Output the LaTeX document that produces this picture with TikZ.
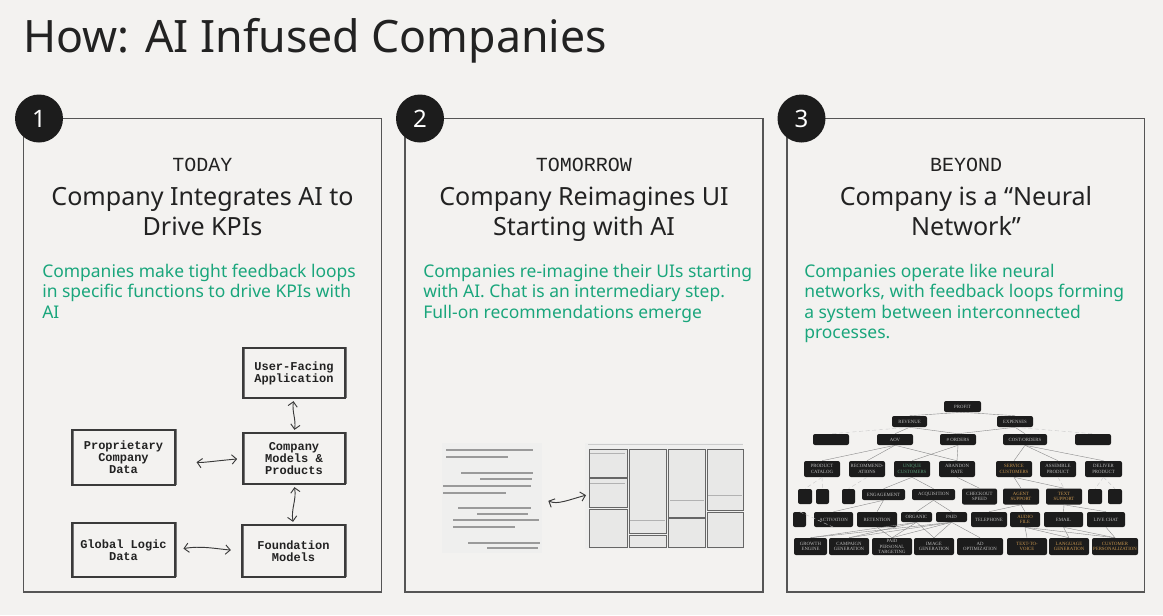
\documentclass[tikz,border=0pt]{standalone}
\usepackage{fontspec}
\setmainfont{Noto Sans}
\newfontfamily\monofont{Liberation Mono}
\newfontfamily\treefont{Liberation Serif}
\usetikzlibrary{arrows.meta}
\definecolor{bgc}{HTML}{F3F2F0}
\definecolor{darktxt}{HTML}{222222}
\definecolor{greentxt}{HTML}{1AA67C}
\definecolor{panelline}{HTML}{555555}
\definecolor{boxline}{HTML}{3A3A3A}
\definecolor{treebox}{HTML}{1C1C1C}
\definecolor{treetxt}{HTML}{BDBDBD}
\definecolor{treegreen}{HTML}{5C9C7A}
\definecolor{treeorange}{HTML}{C9974F}
\definecolor{edgec}{HTML}{8A8A8A}
\definecolor{docfill}{HTML}{EFEFEE}
\definecolor{docline}{HTML}{9A9A9A}
\definecolor{uifill}{HTML}{E8E8E7}
\newcommand\tnode[7][treetxt]{\node[treenode, text=#1, minimum width=#5*0.75pt, minimum height=#6*0.75pt] (#2) at (#3,#4) {#7};}
\begin{document}
\begin{tikzpicture}[x=0.75pt,y=-0.75pt,
  panelbox/.style={draw=panelline, line width=0.8pt},
  numdisc/.style={circle, fill=treebox, text=white, minimum size=48*0.75pt, inner sep=0pt, font=\fontsize{18}{18}\selectfont},
  kicker/.style={anchor=base, inner sep=0pt, text=darktxt, font=\monofont\fontsize{15}{15}\selectfont},
  headline/.style={anchor=base, inner sep=0pt, text=darktxt, font=\fontsize{18.8}{20}\selectfont},
  greenline/.style={anchor=base west, inner sep=0pt, text=greentxt, font=\fontsize{13.1}{14}\selectfont},
  sketchbox/.style={draw=boxline, line width=0.8pt, inner sep=0pt, align=center,
     font=\monofont\bfseries\fontsize{9}{9}\selectfont, text=darktxt,
     preaction={draw=boxline!70, line width=0.45pt, transform canvas={shift={(0.7pt,0.6pt)}}}},
  sketcharrow/.style={draw=boxline, line width=0.7pt, {Straight Barb[length=3.5pt,width=7pt]}-{Straight Barb[length=3.5pt,width=7pt]}},
  treenode/.style={fill=treebox, rounded corners=1.5pt, inner sep=0pt, align=center, font=\treefont\fontsize{3.6}{4}\selectfont},
  treeedge/.style={draw=edgec, line width=0.3pt},
  lightedge/.style={draw=edgec!45, line width=0.3pt, densely dashed},
  docstroke/.style={draw=docline, line width=1pt},
  uibox/.style={fill=uifill, draw=black!60, line width=0.45pt}
]
\useasboundingbox (0,0) rectangle (1163,615);
\fill[bgc] (0,0) rectangle (1163,615);

% title
\node[anchor=base west, inner sep=0pt, text=darktxt, font=\fontsize{33.5}{38}\selectfont] (title) at (23,52) {How: AI Infused Companies};

% panels
\draw[panelbox] (23.5,118.5) rectangle (381.5,592);
\draw[panelbox] (405,118.5) rectangle (763,592);
\draw[panelbox] (787,118.5) rectangle (1144.5,592);
\node[numdisc] (n1) at (39,118.5) {1};
\node[numdisc] (n2) at (420,118.5) {2};
\node[numdisc] (n3) at (801.5,118.5) {3};

% panel texts
\node[kicker] (k1) at (202.5,171) {TODAY};
\node[headline] (h1a) at (202.5,205) {Company Integrates AI to};
\node[headline] (h1b) at (202.5,235) {Drive KPIs};
\node[greenline] (g1a) at (42,277) {Companies make tight feedback loops};
\node[greenline] (g1b) at (42,297.5) {in specific functions to drive KPIs with};
\node[greenline] (g1c) at (42,318) {AI};

\node[kicker] (k2) at (584,171) {TOMORROW};
\node[headline] (h2a) at (584,205) {Company Reimagines UI};
\node[headline] (h2b) at (584,235) {Starting with AI};
\node[greenline] (g2a) at (423,277) {Companies re-imagine their UIs starting};
\node[greenline] (g2b) at (423,297.5) {with AI. Chat is an intermediary step.};
\node[greenline] (g2c) at (423,318) {Full-on recommendations emerge};

\node[kicker] (k3) at (966,171) {BEYOND};
\node[headline] (h3a) at (966,205) {Company is a “Neural};
\node[headline] (h3b) at (966,235) {Network”};
\node[greenline] (g3a) at (804,277) {Companies operate like neural};
\node[greenline] (g3b) at (804,297.5) {networks, with feedback loops forming};
\node[greenline] (g3c) at (804,318) {a system between interconnected};
\node[greenline] (g3d) at (804,338.5) {processes.};

% panel 1 diagram
\node[sketchbox, minimum width=102*0.75pt, minimum height=50*0.75pt] (ufa) at (294,373) {User-Facing\\Application};
\node[sketchbox, minimum width=102*0.75pt, minimum height=51*0.75pt] (cmp) at (294,458.5) {Company\\Models \&\\Products};
\node[sketchbox, minimum width=103*0.75pt, minimum height=55*0.75pt] (pcd) at (123.5,457.5) {Proprietary\\Company\\Data};
\node[sketchbox, minimum width=103*0.75pt, minimum height=54*0.75pt] (gld) at (123.5,550) {Global Logic\\Data};
\node[sketchbox, minimum width=103*0.75pt, minimum height=52*0.75pt] (fm) at (293.5,551) {Foundation\\Models};
\draw[sketcharrow, shorten <=2pt, shorten >=2pt] (ufa.south) to[out=-100,in=80] (cmp.north);
\draw[sketcharrow, shorten <=2pt, shorten >=2pt] (cmp.south) to[out=-80,in=100] (fm.north);
\draw[sketcharrow, shorten <=16pt, shorten >=4pt] (pcd.east |- cmp.center) to[out=-10,in=185] (cmp.west);
\draw[sketcharrow, shorten <=6pt, shorten >=8pt] (gld.east) to[out=10,in=175] (fm.west);

% panel 2 diagram
\node[fill=docfill, inner sep=0pt, minimum width=100*0.75pt, minimum height=110*0.75pt] (doc) at (492,498) {};
\draw[docstroke] (446,450) -- (533,450);
\draw[docstroke] (446,457) -- (508,457);
\draw[docstroke] (461,473) -- (533,473);
\draw[docstroke] (480,479) -- (532,479);
\draw[docstroke] (443,486) -- (531,486);
\draw[docstroke] (443,493) -- (506,493);
\draw[docstroke] (458,508) -- (531,508);
\draw[docstroke] (477,514) -- (528,514);
\draw[docstroke] (453,520) -- (539,520);
\draw[docstroke] (453,527) -- (515,527);
\draw[docstroke] (468,543) -- (540,543);
\draw[docstroke] (487,548) -- (538,548);

\node[fill=docfill, inner sep=0pt, minimum width=158*0.75pt, minimum height=106*0.75pt] (ui) at (664,495.5) {};
\draw[draw=black!20, line width=0.5pt] (588,444.5) -- (743,444.5);
\draw[uibox] (589,449) rectangle (627,477);
\draw[uibox] (589,478.5) rectangle (627,507);
\draw[uibox] (589,509) rectangle (627,547);
\draw[uibox] (629,449) rectangle (666,533);
\draw[uibox] (629,535) rectangle (666,547);
\draw[uibox] (668,449) rectangle (705,517);
\draw[uibox] (668,518.5) rectangle (705,547);
\draw[uibox] (707,449) rectangle (743,510);
\draw[uibox] (707,512) rectangle (743,547);
\draw[draw=black!30, line width=0.4pt] (590,453) -- (625,453);
\draw[draw=black!30, line width=0.4pt] (590,483) -- (625,483);
\draw[draw=black!30, line width=0.4pt] (670,500) -- (704,500);
\draw[draw=black!30, line width=0.4pt] (630,520) -- (665,520);
\draw[draw=black!30, line width=0.4pt] (708,495) -- (742,495);

\draw[sketcharrow, shorten <=5pt, shorten >=-1pt] (doc.east) to[out=-25,in=195] (ui.west);

% panel 3 tree
\tnode{profit}{962.5}{406.5}{37}{11}{PROFIT}
\tnode{rev}{909.5}{421.5}{35}{11}{REVENUE}
\tnode{exp}{1015}{421.5}{36}{11}{EXPENSES}
\tnode{bla}{831}{439.5}{36}{11}{}
\tnode{aov}{895}{439.5}{36}{11}{AOV}
\tnode{ord}{958}{439.5}{36}{11}{\# ORDERS}
\tnode{cpo}{1025}{439.5}{44}{11}{COST/ORDERS}
\tnode{blb}{1093}{439.5}{36}{11}{}
\tnode{pc}{822}{469}{36}{16}{PRODUCT\\CATALOG}
\tnode{rec}{867}{469}{36}{16}{RECOMMEND-\\ATIONS}
\tnode[treegreen]{uc}{912}{469}{36}{16}{UNIQUE\\CUSTOMERS}
\tnode{ar}{957}{469}{36}{16}{ABANDON\\RATE}
\tnode[treeorange]{sc}{1014}{469}{36}{16}{SERVICE\\CUSTOMERS}
\tnode{ap}{1058}{469}{36}{16}{ASSEMBLE\\PRODUCT}
\tnode{dp}{1103.5}{469}{37}{16}{DELIVER\\PRODUCT}
\tnode{blc}{805}{496.5}{14}{15}{}
\tnode{bld}{822.5}{496.5}{13}{15}{}
\tnode{ble}{848.5}{496.5}{13}{15}{}
\tnode{eng}{883.5}{494.5}{43}{11}{ENGAGEMENT}
\tnode{acq}{933.5}{494.5}{43}{11}{ACQUISITION}
\tnode{cs}{979.5}{496.5}{35}{16}{CHECKOUT\\SPEED}
\tnode[treeorange]{as}{1021}{496.5}{36}{16}{AGENT\\SUPPORT}
\tnode[treeorange]{ts}{1064}{496.5}{36}{16}{TEXT\\SUPPORT}
\tnode{blf}{1095}{496.5}{14}{15}{}
\tnode{blg}{1115}{496.5}{14}{15}{}
\tnode{blh}{799.5}{519.5}{13}{15}{}
\tnode{act}{833.5}{519.5}{39}{15}{ACTIVATION}
\tnode{ret}{877}{519.5}{40}{15}{RETENTION}
\tnode{org}{916.5}{517}{31}{10}{ORGANIC}
\tnode{paid}{951.5}{517}{31}{10}{PAID}
\tnode{tel}{989}{519.5}{36}{15}{TELEPHONE}
\tnode[treeorange]{af}{1025}{519.5}{30}{15}{AUDIO\\FILE}
\tnode{em}{1063.5}{519.5}{39}{15}{EMAIL}
\tnode{lc}{1106}{519.5}{38}{15}{LIVE CHAT}
\tnode{ge}{810.5}{546.5}{33}{17}{GROWTH\\ENGINE}
\tnode{cg}{849}{546.5}{40}{17}{CAMPAIGN\\GENERATION}
\tnode{ppt}{892}{546.5}{40}{17}{PAID\\PERSONAL\\TARGETING}
\tnode{ig}{934}{546.5}{40}{17}{IMAGE\\GENERATION}
\tnode{ao}{980}{546.5}{46}{17}{AD\\OPTIMIZATION}
\tnode[treeorange]{ttv}{1027}{546.5}{40}{17}{TEXT-TO-\\VOICE}
\tnode[treeorange]{lg}{1069}{546.5}{40}{17}{LANGUAGE\\GENERATION}
\tnode[treeorange]{cp}{1115}{546.5}{46}{17}{CUSTOMER\\PERSONALIZATION}

\foreach \a/\b in {profit/rev, profit/exp, rev/aov, rev/ord, exp/ord, exp/cpo,
  aov/pc, aov/rec, aov/ar, ord/uc, ord/ar, cpo/sc, cpo/ap, cpo/dp,
  uc/eng, uc/acq, ar/cs, sc/as, sc/ts, eng/act, eng/ret, acq/org, acq/paid,
  as/tel, as/af, ts/em, ts/lc,
  org/ge, org/cg, org/ppt, org/ig, paid/ge, paid/cg, paid/ppt, paid/ig, paid/ao, ret/ppt,
  af/ttv, af/lg, af/cp, em/lg, em/cp, lc/cp}
  \draw[treeedge] (\a.south) -- (\b.north);
\foreach \a/\b in {rev/bla, exp/blb, pc/blc, pc/bld, rec/ble, dp/blf, dp/blg, act/blh, ap/ts}
  \draw[lightedge] (\a.south) -- (\b.north);
\end{tikzpicture}
\end{document}
